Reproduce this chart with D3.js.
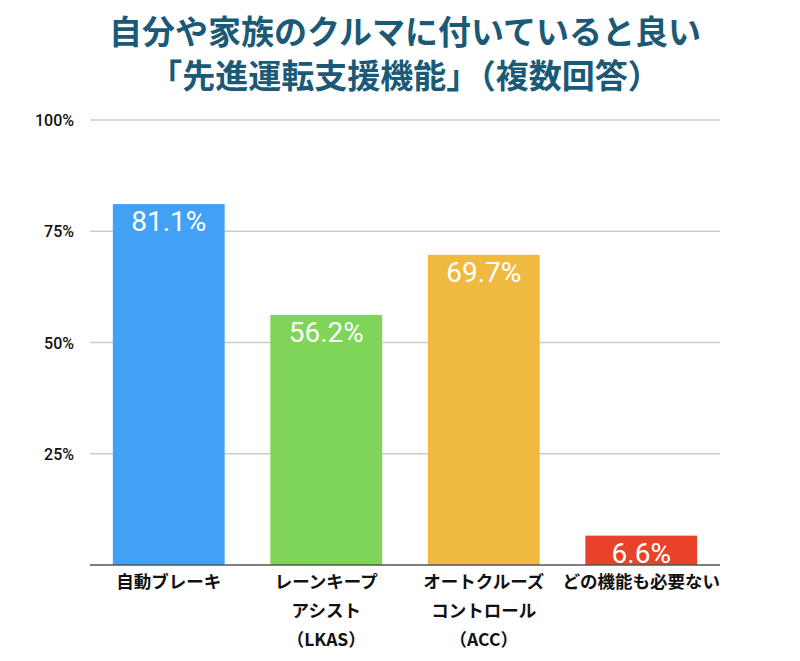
<!DOCTYPE html><html><head><meta charset="utf-8">
<script src="https://cdn.jsdelivr.net/npm/d3@7"></script>
<style>body{margin:0;background:#fff}</style></head><body><svg id="c" width="800" height="661"></svg>
<script>
const categories=[["自動ブレーキ"],["レーンキープ","アシスト","（LKAS）"],["オートクルーズ","コントロール","（ACC）"],["どの機能も必要ない"]];
const values=[81.1,56.2,69.7,6.6];
const colors=["#42a1f5","#7ed557","#f0b942","#e8432a"];
const ticks=[25,50,75,100];
const titleLines=["自分や家族のクルマに付いていると良い","「先進運転支援機能」（複数回答）"];
const svg=d3.select("#c");
const F="'Noto Sans CJK JP',sans-serif";
const N="'Liberation Sans Narrow','Roboto',sans-serif";
const x=d3.scaleBand().domain(d3.range(4)).range([90,720]).paddingInner(0.29).paddingOuter(0.145);
const y=d3.scaleLinear().domain([0,100]).range([565,120]);
svg.selectAll(".t").data(titleLines).enter().append("text").attr("x",405).attr("y",(d,i)=>44+i*44)
 .attr("text-anchor","middle").attr("font-family",F).attr("font-weight","bold").attr("font-size",33).attr("fill","#1b5a76").text(d=>d);
svg.selectAll(".g").data(ticks).enter().append("line").attr("x1",90).attr("x2",720).attr("y1",d=>y(d)).attr("y2",d=>y(d)).attr("stroke","#ccc").attr("stroke-width",1.5);
svg.selectAll(".yl").data(ticks).enter().append("text").attr("x",74).attr("y",d=>y(d)+6).attr("text-anchor","end")
 .attr("font-family","'Roboto',sans-serif").attr("font-weight",500).attr("font-size",16).attr("fill","#111").text(d=>d+"%");
svg.selectAll(".b").data(values).enter().append("rect").attr("x",(d,i)=>x(i)).attr("width",x.bandwidth()).attr("y",d=>y(d)).attr("height",d=>565-y(d)).attr("fill",(d,i)=>colors[i]);
svg.selectAll(".v").data(values).enter().append("text").attr("x",(d,i)=>x(i)+x.bandwidth()/2).attr("y",d=>y(d)+27)
 .attr("text-anchor","middle").attr("font-family",N).attr("font-size",28).attr("fill","#fff").text(d=>d.toFixed(1)+"%");
svg.append("line").attr("x1",90).attr("x2",720).attr("y1",565).attr("y2",565).attr("stroke","#555").attr("stroke-width",1.5);
categories.forEach((c,i)=>{c.forEach((l,j)=>{svg.append("text").attr("x",x(i)+x.bandwidth()/2).attr("y",588+j*29).attr("text-anchor","middle")
 .attr("font-family",F).attr("font-weight","bold").attr("font-size",17.5).attr("fill","#111").text(l);});});
</script></body></html>
